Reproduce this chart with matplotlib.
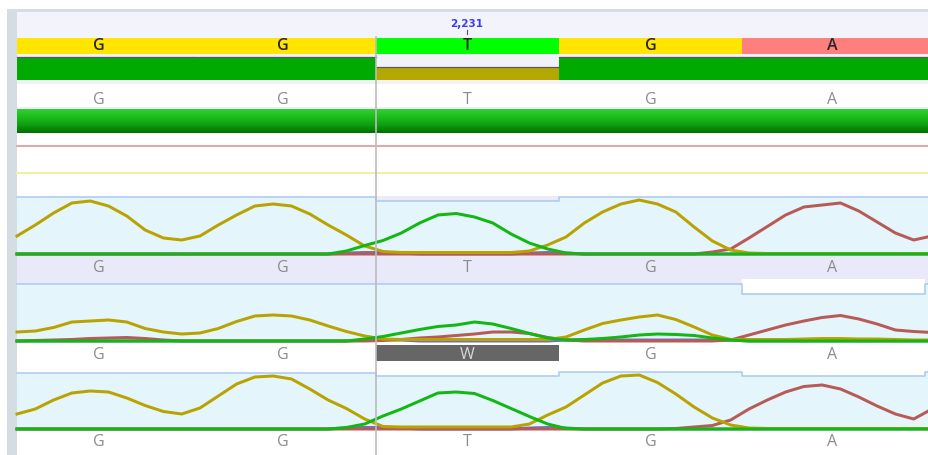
import numpy as np
import matplotlib

matplotlib.use("Agg")
import matplotlib.pyplot as plt
from matplotlib.patches import Rectangle

# --- data -------------------------------------------------------------------
position_label = "2,231"
consensus = ["G", "G", "T", "G", "A"]
quality = [40, 40, 22, 40, 40]            # per base, max 40
read_calls = [
    ["G", "G", "T", "G", "A"],
    ["G", "G", "W", "G", "A"],
    ["G", "G", "T", "G", "A"],
]

# trace intensities, 10 samples per base (51 samples across the view)
trace1_G = [18, 29, 41, 51, 53, 48, 38, 24, 16, 14, 18, 29, 39, 48, 50, 48, 40, 29, 19, 8,
            2.5, 1.5, 1.5, 1.5, 1.5, 1.5, 1.5, 1.5, 3, 9, 17, 31, 42, 50, 54, 50, 42, 27, 13, 4,
            1, 0.5, 0.5, 0.5, 0.5, 0.5, 0.5, 0.5, 0.5, 0.5, 0.5]
trace1_T = [0, 0, 0, 0, 0, 0, 0, 0, 0, 0, 0, 0, 0, 0, 0, 0, 0, 0, 3, 8.5,
            13.5, 21, 31, 39, 40.5, 37, 31, 20, 11, 5, 1, 0, 0, 0, 0, 0, 0, 0, 0, 0,
            0, 0, 0, 0, 0, 0, 0, 0, 0, 0, 0]
trace1_A = [0, 0, 0, 0, 0, 0, 0, 0, 0, 0, 0, 0, 0, 0, 0, 0, 0, 0, 0, 0,
            0, 0, 0, 0, 0, 0, 0, 0, 0, 0, 0, 0, 0, 0, 0, 0, 0, 0, 2, 5,
            16, 27.5, 39, 47, 49, 51, 43, 32, 21, 14, 18]
trace1_C = [0, 0, 0, 0, 0, 0, 0, 0, 0, 0, 0, 0, 0, 0, 0, 0, 0, 0, 1, 1.5,
            1.5, 1, 0, 0, 0, 0, 0, 0, 1, 1.5, 1, 0, 0, 0, 0, 0, 0, 0, 0, 0,
            0, 0, 0, 0, 0, 0, 0, 0, 0, 0, 0]

trace2_G = [9, 10, 13.5, 19, 20, 21, 19, 12.5, 9, 7, 8, 12.5, 19.5, 25, 26, 25, 21, 15, 9.5, 5,
            2, 1.5, 1.5, 1.5, 1.5, 1.5, 1.5, 1.5, 1.5, 1.5, 4, 11, 17.5, 21, 24, 26, 21.5, 14, 6, 1.5,
            1.5, 1.5, 1.5, 2, 2.5, 2.5, 2, 2, 1.5, 1, 1]
trace2_T = [0, 0, 0, 0, 0, 0, 0, 0, 0, 0, 0, 0, 0, 0, 0, 0, 0, 0, 0, 2,
            4.5, 8, 11.5, 14.5, 16, 19, 17, 12.5, 7.5, 3, 1, 1.5, 2.5, 4, 6, 7, 6.5, 5.5, 3, 1,
            0, 0, 0, 0, 0, 0, 0, 0, 0, 0, 0]
trace2_A = [0, 0.5, 1, 1.5, 2.5, 3, 3.5, 2.5, 1, 0, 0, 0, 0, 0, 0, 0, 0, 0, 0, 0,
            0.5, 1.5, 3, 4, 5.5, 7, 9, 9, 7.5, 3.5, 1, 0, 0, 0, 0, 0, 0, 0, 0, 1,
            6, 11, 16, 20, 23.5, 25.5, 22, 17, 11, 9.5, 8.5]
trace2_C = [0, 0, 0, 0, 0, 0, 0, 0, 0, 0, 0, 0, 0, 0, 0, 0, 0, 0, 0, 1,
            1.5, 1, 0, 0, 0, 0, 0, 0, 0, 0, 1, 1, 1, 1, 1, 1, 1, 1, 1, 1,
            0, 0, 0, 0, 0, 0, 0, 0, 0, 0, 0]

trace3_G = [15, 20, 29, 36, 38, 37, 31, 23.5, 17.5, 15, 21, 33, 45, 52, 53, 50, 40, 29, 20.5, 10,
            2.5, 2, 2, 2, 2, 2, 2, 2, 5, 14, 22, 34, 46, 53, 54, 46.5, 35, 22, 11, 4,
            1, 0.5, 0.5, 0.5, 0.5, 0.5, 0.5, 0.5, 0.5, 0.5, 0.5]
trace3_T = [0, 0, 0, 0, 0, 0, 0, 0, 0, 0, 0, 0, 0, 0, 0, 0, 0, 0, 1.5, 5,
            13, 20, 28, 36, 37, 35.5, 28.5, 20.5, 12.5, 5, 0.5, 0, 0, 0, 0, 0, 0, 0, 0, 0,
            0, 0, 0, 0, 0, 0, 0, 0, 0, 0, 0]
trace3_A = [0, 0, 0, 0, 0, 0, 0, 0, 0, 0, 0, 0, 0, 0, 0, 0, 0, 0, 0, 0,
            0, 0, 0, 0, 0, 0, 0, 0, 0, 0, 0, 0, 0, 0, 0, 0, 0.5, 2, 3.5, 9,
            20, 29, 37, 42.5, 44, 40, 32, 23, 15, 10, 20]
trace3_C = [0, 0, 0, 0, 0, 0, 0, 0, 0, 0, 0, 0, 0, 0, 0, 0, 0, 0, 1, 1.5,
            1.5, 1, 0, 0, 0, 0, 0, 0, 1, 1.5, 1, 0, 0, 0, 0, 0, 0, 0, 0, 0,
            0, 0, 0, 0, 0, 0, 0, 0, 0, 0, 0]

# --- layout (pixel space) ---------------------------------------------------
W, H = 929, 456
X0 = 17                    # left edge of the data area
STEP = 183                 # pixels per base
CENTER0 = 101.5            # centre of first base
centers = CENTER0 + STEP * np.arange(len(consensus)) - np.array([3, 1.5, 0, 0, 1.5])
edges = CENTER0 + STEP * (np.arange(len(consensus) + 2) - 0.5)
CURSOR_X = edges[2]

call_colors = {"G": "#ffe500", "T": "#00ff00", "A": "#ff7f7f", "C": "#7f7fff"}
trace_colors = {"C": "#7070c8", "A": "#b85a55", "G": "#b9a300", "T": "#12b812"}
LW = 3 * 72 / 100          # 3 px line
LETTER_FONT = ["Open Sans", "DejaVu Sans"]

fig = plt.figure(figsize=(W / 100, H / 100), dpi=100)
ax = fig.add_axes([0, 0, 1, 1])
ax.set_xlim(0, W)
ax.set_ylim(H, 0)
ax.axis("off")


def band(y0, y1, color, x0=X0, x1=W, z=1):
    ax.add_patch(Rectangle((x0, y0), x1 - x0, y1 - y0, color=color, lw=0, zorder=z))


def col_span(i, n):
    # last column runs to the right edge of the view
    xa = max(edges[i], X0)
    xb = W if i == n - 1 else min(edges[i + 1], W)
    return xa, xb


# window chrome
band(10, H, "#d5dce4", x0=7, x1=X0)
band(10, 12.5, "#d5dce4", x0=7)
band(12.5, 38.5, "#f3f3fb")
band(54.5, 85, "#f1f1fa")
band(108, 110, "#ececf8")

ax.text(467, 24, position_label, color="#3a3aff", fontsize=7.5, fontweight="bold",
        ha="center", va="center", family="DejaVu Sans", zorder=5)
ax.plot([467, 467], [31, 35], color="#555555", lw=0.8, zorder=5)

# consensus call row
n = len(consensus)
for i, b in enumerate(consensus):
    xa, xb = col_span(i, n)
    band(38.5, 54.5, call_colors[b], x0=xa, x1=xb, z=2)
    ax.text(centers[i], 46.5, b, color="#262626", fontsize=11.5, ha="center", va="center",
            family=LETTER_FONT, fontweight="semibold", zorder=5)

# quality bars
BAR_BOTTOM, BAR_H = 81, 22.5
for i, q in enumerate(quality):
    top = BAR_BOTTOM - BAR_H * q / 40
    col = "#00aa00" if q >= 30 else "#b3a800"
    xa, xb = col_span(i, n)
    band(top, BAR_BOTTOM, col, x0=xa, x1=xb, z=2)
    ax.plot([xa, xb], [top - 0.5, top - 0.5], color="#5a5a5a", lw=0.9, zorder=3)

for i, b in enumerate(consensus):
    ax.text(centers[i], 100, b, color="#8c8c8c", fontsize=11.5, ha="center", va="center",
            family=LETTER_FONT, zorder=5)

# coverage gradient bar
grad = np.linspace(0, 1, 64)[:, None]
cmap = matplotlib.colors.LinearSegmentedColormap.from_list(
    "cov", ["#30d030", "#1cbc1c", "#0f9f0f", "#006e00"])
ax.imshow(grad, cmap=cmap, aspect="auto", extent=[X0, W, 134, 110], zorder=2)

ax.plot([X0, W], [147, 147], color="#e3a9a9", lw=1.5, zorder=2)
ax.plot([X0, W], [173.5, 173.5], color="#f3efa0", lw=1.5, zorder=2)

# trace panels: baseline y, per-column top offset, traces, label row colour, label y
panels = [
    (255, [0, 0, 4, 0, 0, 0], (trace1_C, trace1_A, trace1_G, trace1_T), "#e9e9f9", 268),
    (342, [0, 0, 0, 0, 10, 0], (trace2_C, trace2_A, trace2_G, trace2_T), "#ffffff", 355),
    (430, [1, 1, 4, 0, 4, 0], (trace3_C, trace3_A, trace3_G, trace3_T), "#ffffff", 442),
]
PANEL_H = 57
xs = X0 + np.arange(len(trace1_G)) * STEP / 10

band(255, 285.5, panels[0][3])
band(196.5, 202, "#ececf8", x0=edges[2], x1=edges[3], z=1)
band(280, 296, "#ffffff", x0=edges[4], x1=edges[5], z=1)

for p, (base_y, offs, traces, row_col, label_y) in enumerate(panels):
    top0 = base_y - PANEL_H
    sx, sy = [], []
    for i in range(len(offs)):
        xa, xb = max(edges[i], X0), min(edges[i + 1], W)
        t = top0 + offs[i]
        band(t, base_y + 1, "#e4f5fc", x0=xa, x1=xb, z=1)
        sx += [xa, xb]
        sy += [t, t]
    ax.plot(sx, sy, color="#a9c9f2", lw=1.1, zorder=3)
    for tr, key in zip(traces, "CAGT"):
        ax.plot(xs, base_y - np.asarray(tr), color=trace_colors[key], lw=LW,
                solid_joinstyle="round", zorder=4)
    for i, b in enumerate(read_calls[p]):
        if b == "W":
            band(base_y + 3.5, base_y + 20, "#666666", x0=edges[2], x1=edges[3], z=3)
            ax.text(centers[i], label_y, b, color="#d8d8d8", fontsize=11.5, ha="center",
                    va="center", family=LETTER_FONT, zorder=5)
        else:
            ax.text(centers[i], label_y, b, color="#8c8c8c", fontsize=11.5, ha="center",
                    va="center", family=LETTER_FONT, zorder=5)

ax.plot([CURSOR_X, CURSOR_X], [38, H], color="#bcbcbc", lw=1.2, zorder=6)

fig.savefig("out.png", dpi=100)
